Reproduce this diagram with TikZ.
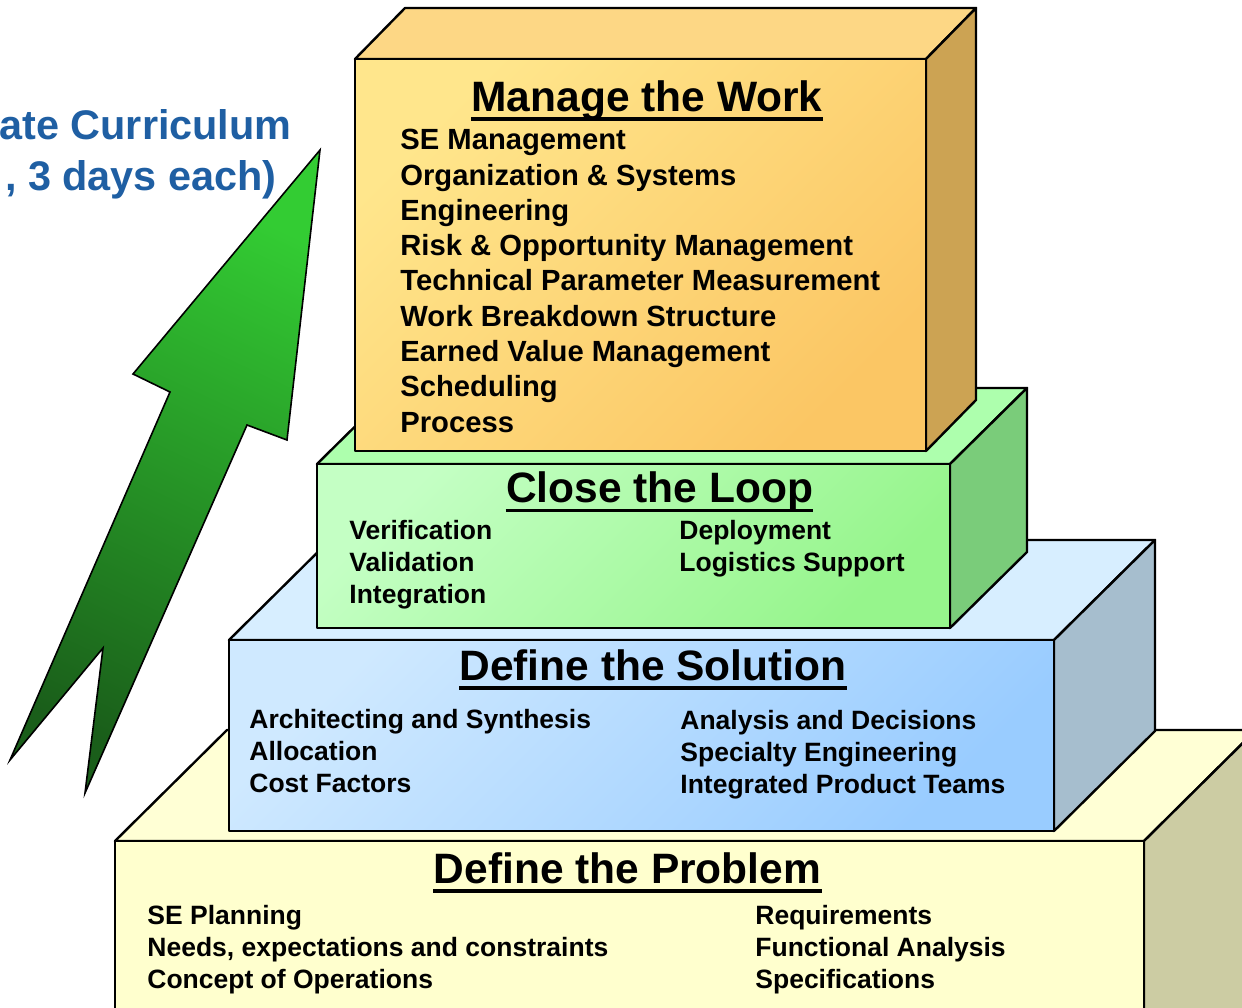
\documentclass[tikz,border=0pt]{standalone}
\usepackage{fontspec}
\setmainfont{Liberation Sans}

\definecolor{workTop}{HTML}{FDD785}
\definecolor{workFrontA}{HTML}{FFE68C}
\definecolor{workFrontB}{HTML}{FBC664}
\definecolor{workSide}{HTML}{CCA353}
\definecolor{loopTop}{HTML}{ADFFAD}
\definecolor{loopFrontA}{HTML}{C4FFC4}
\definecolor{loopFrontB}{HTML}{96F58C}
\definecolor{loopSide}{HTML}{7ACC7A}
\definecolor{solTop}{HTML}{D7EEFF}
\definecolor{solFrontA}{HTML}{CFE9FF}
\definecolor{solFrontB}{HTML}{99CCFF}
\definecolor{solSide}{HTML}{A6BECE}
\definecolor{probTop}{HTML}{FFFFD5}
\definecolor{probFront}{HTML}{FFFFCE}
\definecolor{probSide}{HTML}{CCCCA3}
\definecolor{arrowLight}{HTML}{33CC33}
\definecolor{arrowDark}{HTML}{1A5E1A}
\definecolor{curBlue}{HTML}{1F5FA3}

\tikzset{
  boxface/.style={draw=black, line width=1.2pt, line join=round},
  boxtitle/.style={font=\fontsize{21.25}{25}\selectfont\bfseries, inner sep=0pt, anchor=base},
  boxitems/.style={font=\fontsize{13.25}{16}\selectfont\bfseries, inner sep=0pt, anchor=north west, align=left},
  workitems/.style={boxitems, font=\fontsize{14.6}{17.65}\selectfont\bfseries},
  uline/.style={line width=1.7pt},
  curtext/.style={font=\fontsize{20.7}{25}\selectfont\bfseries, text=curBlue, inner sep=0pt, anchor=base east}
}

\begin{document}
\begin{tikzpicture}[x=0.5pt, y=-0.5pt]
        \useasboundingbox (0,0) rectangle (1242,1007);
        \clip (0,0) rectangle (1242,1007);

        % Curriculum heading
        \node (curr1) [curtext] at (292,139) {ate Curriculum};
        \node (curr2) [curtext] at (277,190) {, 3 days each)};

        % Growth arrow
        \draw[line width=0.8pt, line join=miter, top color=arrowLight, bottom color=arrowDark, shading angle=-25]
            (320,150) -- (287,440) -- (247,425) -- (85,793) -- (103,648) -- (10,760) -- (170,392) -- (133,374) -- cycle;

        % Define the Problem
        \draw[boxface, fill=probTop] (115,841) -- (227,730) -- (1256,730) -- (1144,841) -- cycle;
        \draw[boxface, fill=probSide] (1144,841) -- (1256,730) -- (1256,1030) -- (1144,1141) -- cycle;
        \draw[boxface, fill=probFront] (115,841) rectangle (1144,1030);
        \node (problem) [boxtitle] at (627.5,883) {Define the Problem};
        \draw[uline] ([yshift=-4pt]problem.base west) -- ([yshift=-4pt]problem.base east);
        \node (problemL) [boxitems] at (147,904.5) {SE Planning\\Needs, expectations and constraints\\Concept of Operations};
        \node (problemR) [boxitems] at (755,904.5) {Requirements\\Functional Analysis\\Specifications};

        % Define the Solution
        \draw[boxface, fill=solTop] (229,640) -- (330,540) -- (1155,540) -- (1054,640) -- cycle;
        \draw[boxface, fill=solSide] (1054,640) -- (1155,540) -- (1155,731) -- (1054,831) -- cycle;
        \draw[boxface, top color=solFrontA, bottom color=solFrontB, shading angle=45] (229,640) rectangle (1054,831);
        \node (solution) [boxtitle] at (653,680) {Define the Solution};
        \draw[uline] ([yshift=-4pt]solution.base west) -- ([yshift=-4pt]solution.base east);
        \node (solutionL) [boxitems] at (249,709) {Architecting and Synthesis\\Allocation\\Cost Factors};
        \node (solutionR) [boxitems] at (680,710) {Analysis and Decisions\\Specialty Engineering\\Integrated Product Teams};

        % Close the Loop
        \draw[boxface, fill=loopTop] (317,464) -- (394,388) -- (1027,388) -- (950,464) -- cycle;
        \draw[boxface, fill=loopSide] (950,464) -- (1027,388) -- (1027,552) -- (950,628) -- cycle;
        \draw[boxface, top color=loopFrontA, bottom color=loopFrontB, shading angle=45] (317,464) rectangle (950,628);
        \node (loop) [boxtitle] at (659.5,502.5) {Close the Loop};
        \draw[uline] ([yshift=-4pt]loop.base west) -- ([yshift=-4pt]loop.base east);
        \node (loopL) [boxitems] at (349,519.5) {Verification\\Validation\\Integration};
        \node (loopR) [boxitems] at (679,519.5) {Deployment\\Logistics Support};

        % Manage the Work
        \draw[boxface, fill=workTop] (355,59) -- (405,8) -- (976,8) -- (926,59) -- cycle;
        \draw[boxface, fill=workSide] (926,59) -- (976,8) -- (976,400) -- (926,451) -- cycle;
        \draw[boxface, top color=workFrontA, bottom color=workFrontB, shading angle=45] (355,59) rectangle (926,451);
        \node (work) [boxtitle] at (647,111) {Manage the Work};
        \draw[uline] ([yshift=-4pt]work.base west) -- ([yshift=-4pt]work.base east);
        \node (workitems) [workitems] at (400,129) {SE Management\\Organization \& Systems\\Engineering\\Risk \& Opportunity Management\\Technical Parameter Measurement\\Work Breakdown Structure\\Earned Value Management\\Scheduling\\Process};
    \end{tikzpicture}
\end{document}
